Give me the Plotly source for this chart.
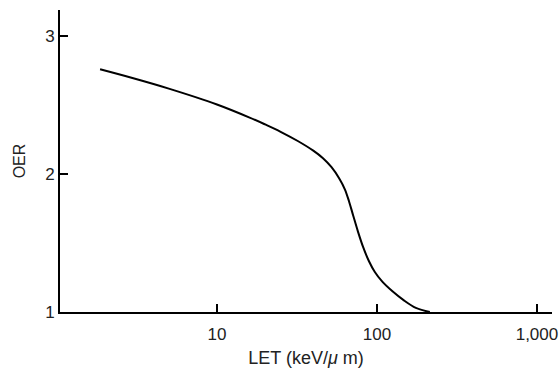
import plotly.graph_objects as go

# Data (LET in keV/µm, OER)
let_values = [1.86, 3, 5, 10, 16, 20, 25, 32, 40, 46, 52, 58, 63, 67, 71, 76, 82, 89, 97, 108, 125, 146, 175, 214]
oer_values = [2.76, 2.695, 2.62, 2.505, 2.41, 2.36, 2.307, 2.24, 2.17, 2.115, 2.05, 1.97, 1.89, 1.80, 1.70, 1.585, 1.47, 1.37, 1.29, 1.22, 1.15, 1.088, 1.03, 1.0]

x_tick_vals = [10, 100, 1000]
x_tick_text = ["10", "100", "1,000"]
y_tick_vals = [1, 2, 3]
y_tick_text = ["1", "2", "3"]

font_family = "Liberation Sans, Arial, sans-serif"
txt_color = "#222222"

fig = go.Figure()
fig.add_trace(go.Scatter(
    x=let_values, y=oer_values, mode="lines",
    line=dict(color="black", width=2, shape="spline", smoothing=1.0),
    showlegend=False, hoverinfo="skip"
))

fig.update_layout(
    template="none",
    width=560, height=370,
    margin=dict(l=60, r=8, t=10, b=58),
    paper_bgcolor="white", plot_bgcolor="white",
    font=dict(family=font_family, size=17, color=txt_color),
    xaxis=dict(
        type="log", range=[0.019, 3.094], automargin=False,
        tickvals=x_tick_vals, ticktext=x_tick_text,
        ticks="inside", ticklen=8, tickwidth=1.5, tickcolor="black",
        showline=True, linecolor="black", linewidth=2,
        showgrid=False, zeroline=False,
        tickfont=dict(size=17, color=txt_color),
        ticklabelstandoff=6,
        title=dict(text="LET (keV/<i>μ</i> m)", font=dict(size=18, color=txt_color), standoff=8),
    ),
    yaxis=dict(
        range=[1, 3.19], automargin=False,
        tickvals=y_tick_vals, ticktext=y_tick_text,
        ticks="inside", ticklen=8, tickwidth=1.5, tickcolor="black",
        showline=True, linecolor="black", linewidth=2,
        showgrid=False, zeroline=False,
        tickfont=dict(size=17, color=txt_color),
        title=dict(text="OER", font=dict(size=16, color=txt_color), standoff=16),
    ),
)

fig.write_html("out.html", config={"displayModeBar": False},
               post_script="document.body.style.margin='0';")
